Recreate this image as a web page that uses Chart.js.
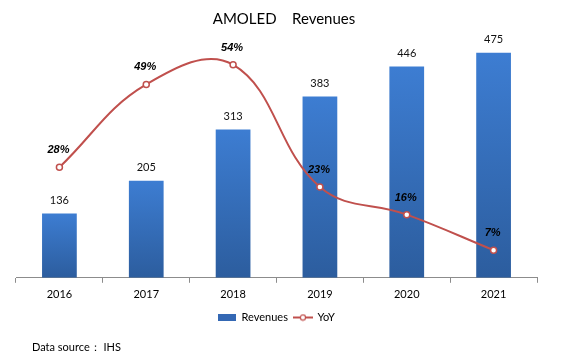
<!DOCTYPE html>
<html>
<head>
<meta charset="utf-8">
<script src="https://cdn.jsdelivr.net/npm/chart.js@4.4.1/dist/chart.umd.min.js"></script>
<style>
html,body{margin:0;padding:0;background:#fff;}
#wrap{width:571px;height:360px;position:relative;}
</style>
</head>
<body>
<div id="wrap"><canvas id="c" width="571" height="360"></canvas></div>
<script>
const categories = ['2016', '2017', '2018', '2019', '2020', '2021'];
const revenues = [136, 205, 313, 383, 446, 475];
const yoy = [28, 49, 54, 23, 16, 7];
const titleText = 'AMOLED    Revenues';
const sourceText = 'Data source\uFF1A IHS';

const FONT = 'Lato, "Open Sans", "Liberation Sans", sans-serif';
const RED = '#c0504d';

function barColor(ctx) {
  const chart = ctx.chart;
  if (!chart.chartArea || ctx.type !== 'data') return '#3570c0';
  const ys = chart.scales.y;
  const top = ys.getPixelForValue(ctx.parsed ? ctx.parsed.y : revenues[ctx.dataIndex]);
  const bottom = ys.getPixelForValue(0);
  if (!isFinite(top) || !isFinite(bottom) || top === bottom) return '#3570c0';
  const g = chart.ctx.createLinearGradient(0, top, 0, bottom);
  g.addColorStop(0, '#3d7dd2');
  g.addColorStop(1, '#2c5d9e');
  return g;
}

function makeBarIcon() {
  const c = document.createElement('canvas');
  c.width = 18; c.height = 7;
  const x = c.getContext('2d');
  x.fillStyle = '#3468b4';
  x.fillRect(0, 0, 18, 7);
  return c;
}
function makeLineIcon() {
  const c = document.createElement('canvas');
  c.width = 20; c.height = 8;
  const x = c.getContext('2d');
  x.strokeStyle = RED; x.lineWidth = 2;
  x.beginPath(); x.moveTo(0, 4); x.lineTo(20, 4); x.stroke();
  x.fillStyle = '#fff'; x.lineWidth = 1.2;
  x.beginPath(); x.arc(10, 4, 2.6, 0, Math.PI * 2); x.fill(); x.stroke();
  return c;
}

const labelPlugin = {
  id: 'labels',
  afterLayout(chart) {
    if (chart.titleBlock) {
      chart.titleBlock.left += 15;
    }
  },
  afterDatasetsDraw(chart) {
    const ctx = chart.ctx;
    ctx.save();
    const barMeta = chart.getDatasetMeta(0);
    ctx.fillStyle = '#111';
    ctx.font = '11px ' + FONT;
    ctx.textAlign = 'center';
    ctx.textBaseline = 'middle';
    barMeta.data.forEach((el, i) => {
      ctx.fillText(String(revenues[i]), el.x, el.y - 13);
    });
    const lineMeta = chart.getDatasetMeta(1);
    ctx.font = 'italic bold 11px "Liberation Sans", Arial, sans-serif';
    ctx.fillStyle = '#000';
    lineMeta.data.forEach((el, i) => {
      ctx.fillText(yoy[i] + '%', el.x - 1, el.y - 17);
    });
    ctx.restore();
  },
  afterDraw(chart) {
    const ctx = chart.ctx;
    ctx.save();
    ctx.font = '11px ' + FONT;
    ctx.fillStyle = '#000';
    ctx.textAlign = 'left';
    ctx.textBaseline = 'middle';
    ctx.fillText(sourceText, 32, 347);
    ctx.restore();
  }
};

new Chart(document.getElementById('c'), {
  type: 'bar',
  data: {
    labels: categories,
    datasets: [
      {
        type: 'bar',
        label: 'Revenues',
        data: revenues,
        yAxisID: 'y',
        backgroundColor: barColor,
        borderWidth: 0,
        barPercentage: 0.8,
        categoryPercentage: 0.5,
        order: 2
      },
      {
        type: 'line',
        label: 'YoY',
        data: yoy,
        yAxisID: 'y2',
        borderColor: RED,
        borderWidth: 2,
        tension: 0.4,
        pointRadius: 3,
        pointBackgroundColor: '#fff',
        pointBorderColor: RED,
        pointBorderWidth: 1.5,
        order: 1,
        pointStyle: 'circle'
      }
    ]
  },
  options: {
    responsive: false,
    animation: false,
    devicePixelRatio: 1,
    layout: { padding: { left: 16, right: 34, top: 0, bottom: 27 } },
    plugins: {
      title: {
        display: true,
        text: titleText,
        color: '#000',
        font: { family: FONT, size: 15, weight: 'normal' },
        padding: { top: 10, bottom: 13 }
      },
      legend: {
        display: true,
        position: 'bottom',
        labels: {
          color: '#000',
          font: { family: FONT, size: 11 },
          usePointStyle: true,
          pointStyleWidth: 18,
          boxHeight: 8,
          padding: 6,
          generateLabels(chart) {
            return [
              { text: 'Revenues', datasetIndex: 0, pointStyle: makeBarIcon(), fillStyle: '#3468b4', strokeStyle: '#3468b4', lineWidth: 0, hidden: false, fontColor: '#000' },
              { text: 'YoY', datasetIndex: 1, pointStyle: makeLineIcon(), fillStyle: '#fff', strokeStyle: RED, lineWidth: 0, hidden: false, fontColor: '#000' }
            ];
          }
        }
      },
      tooltip: { enabled: false }
    },
    scales: {
      x: {
        offset: true,
        grid: {
          display: true,
          offset: true,
          drawOnChartArea: false,
          drawTicks: true,
          tickLength: 5,
          color: '#8c8c8c'
        },
        border: { display: true, color: '#8c8c8c', width: 1 },
        ticks: {
          color: '#000',
          font: { family: FONT, size: 11 },
          padding: 5
        }
      },
      y: {
        display: false,
        min: 0,
        max: 500
      },
      y2: {
        display: false,
        min: 0,
        max: 60,
        position: 'right'
      }
    }
  },
  plugins: [labelPlugin]
});
</script>
</body>
</html>
